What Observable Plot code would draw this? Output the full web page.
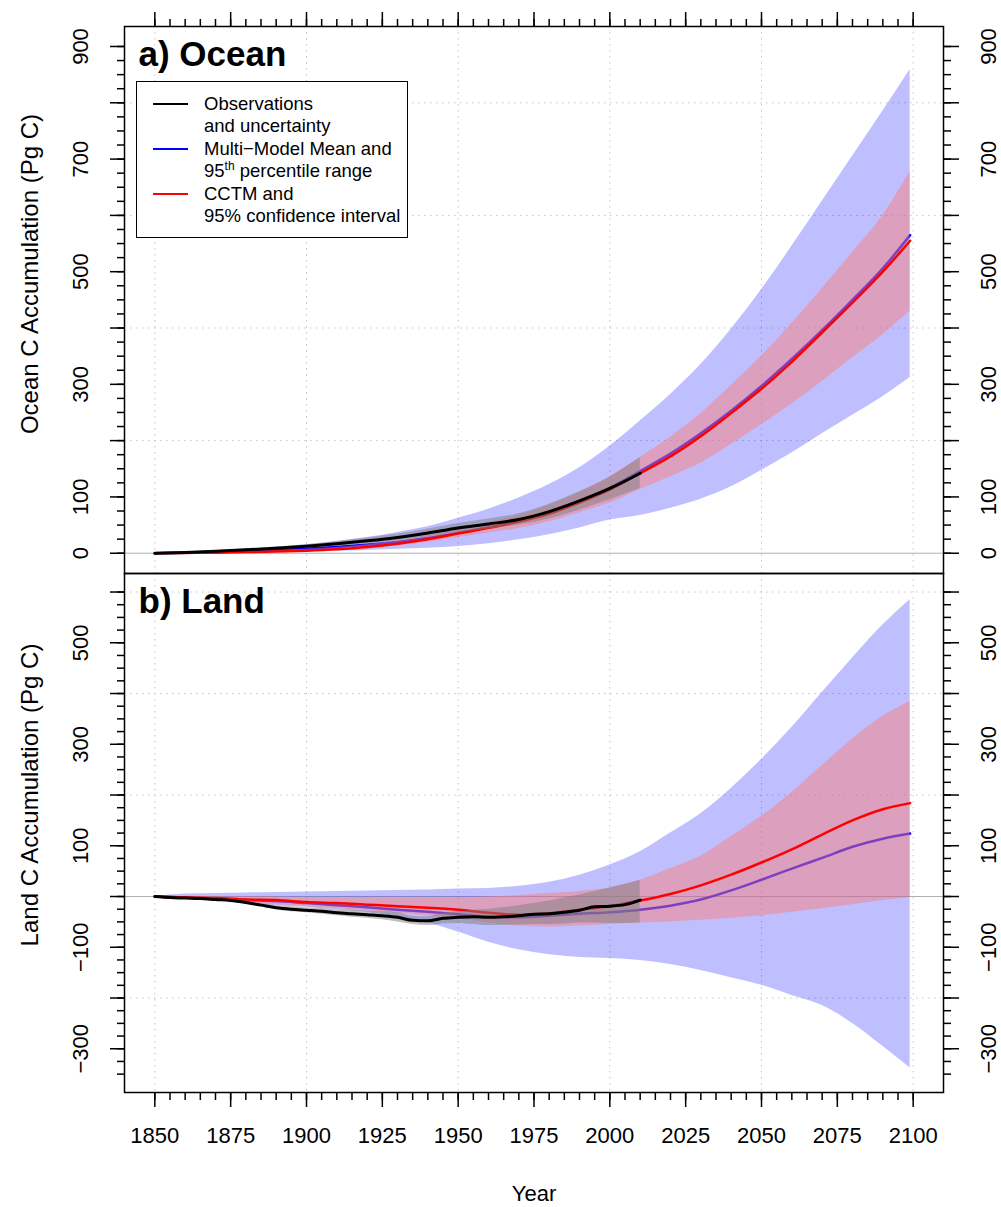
<!DOCTYPE html>
<html>
<head>
<meta charset="utf-8">
<script src="https://cdn.jsdelivr.net/npm/d3@7"></script>
<script src="https://cdn.jsdelivr.net/npm/@observablehq/plot@0.6"></script>
<style>
  body { margin: 0; background: #fff; }
  #wrap { position: relative; width: 1001px; height: 1207px; overflow: hidden; background: #fff;
          font-family: "Liberation Sans", Arial, Helvetica, sans-serif; }
  #wrap svg { position: absolute; left: 0; }
  .legend { position: absolute; left: 136px; top: 81px; width: 270px; height: 155px;
            border: 1px solid #000; background: #fff; font-size: 18.5px; color: #000; }
  .legend .ln { position: absolute; left: 16px; width: 35px; height: 0; border-top: 2.5px solid; }
  .legend .tx { position: absolute; left: 67px; white-space: nowrap; line-height: 1; transform: translateY(-50%); }
  .legend sup { font-size: 12px; vertical-align: 0; position: relative; top: -7px; }
</style>
</head>
<body>
<div id="wrap"></div>
<script>
// ---------------- DATA ----------------
// Model years (decadal, ending 2099)
const modelYears = [1850,1860,1870,1880,1890,1900,1910,1920,1930,1940,1950,1960,1970,1980,1990,2000,2010,2020,2030,2040,2050,2060,2070,2080,2090,2099];

// Ocean (Pg C)
const oceanMmm    = [0,1,2,3.5,5.5,8,11,15,20,27,36,46,57,72,92,116,146,177,213,253,297,345,396,450,506,565];
const oceanMmmLo  = [0,0,0.5,1,1.5,2.5,3.5,5,7,9,12,17,24,33,45,59,67,80,96,118,147,178,212,245,278,312];
const oceanMmmHi  = [0,2,4,7,11,15,21,28,37,47,62,78,98,122,152,190,235,282,335,398,468,545,625,705,785,859];
const oceanCctm   = [0,0.5,1,2,3,4.5,7,11,17,25,35,45,56,70,90,113,142,172,208,249,292,340,392,445,500,555];
const oceanCctmLo = [0,0.2,0.5,1,2,3,5,8,13,19,28,36,44,56,72,89,113,136,160,193,228,265,305,347,388,430];
const oceanCctmHi = [0,1,2,3.5,5,7,10,15,22,31,42,54,67,85,108,136,170,206,248,298,350,408,470,534,600,678];

const oceanObsYears = [1850,1860,1870,1880,1890,1900,1910,1920,1930,1940,1950,1960,1970,1980,1990,2000,2010];
const oceanObs   = [0,1.5,3.5,6,9,12.5,17,22,28,36,45,52,60,74,93,115,142];
const oceanObsLo = [0,1,2.5,4.5,7,10,13,17,22,29,37,43,50,61,77,95,115];
const oceanObsHi = [0,2,4.5,7.5,11,15,21,27,34,43,53,61,70,87,109,135,170];

// Land (Pg C)
const landMmm    = [0,-2,-4,-7,-9,-13,-17,-21,-26,-30,-35,-40,-41,-38,-34,-31,-26,-18,-6,12,33,55,76,98,114,124];
const landMmmLo  = [0,-5,-8,-14,-18,-21,-26,-31,-40,-52,-70,-90,-105,-115,-120,-122,-126,-134,-146,-160,-175,-195,-215,-250,-295,-338];
const landMmmHi  = [0,5,6,7,8,9,10,11,12,13,15,16,20,28,42,62,88,125,163,213,270,333,402,470,535,585];
const landCctm   = [0,-2,-3,-6,-7,-11,-13,-16,-19,-22,-26,-32,-36,-33,-26,-19,-8,5,22,43,67,93,122,150,172,184];
const landCctmLo = [0,-4,-7,-12,-16,-20,-24,-28,-33,-38,-44,-52,-58,-60,-58,-55,-52,-50,-47,-43,-38,-31,-24,-16,-8,-2];
const landCctmHi = [0,0,0,-1,-1,-2,-2,-2,-2,-2,-2,-1,2,6,10,17,32,55,80,118,158,205,258,310,355,385];

const landObsYears = [1850,1855,1860,1865,1870,1875,1880,1885,1890,1895,1900,1905,1910,1915,1920,1925,1930,1935,1940,1945,1950,1955,1960,1965,1970,1975,1980,1985,1990,1995,2000,2005,2010];
const landObs   = [0,-2,-3,-4,-6,-8,-12,-17,-22,-25,-27,-29,-32,-34,-36,-38,-41,-47,-48,-43,-41,-40,-41,-40,-38,-35,-34,-31,-27,-20,-19,-16,-7];
const landObsLo = [0,-3,-4,-6,-8,-11,-15,-20,-26,-30,-32,-35,-38,-41,-43,-46,-50,-55,-57,-54,-53,-55,-57,-57,-56,-55,-55,-54,-52,-52,-53,-53,-52];
const landObsHi = [0,-1,-2,-2,-4,-5,-9,-14,-18,-20,-22,-23,-26,-27,-29,-30,-32,-39,-40,-33,-30,-27,-25,-22,-18,-14,-9,-3,3,10,17,24,32];

// Tick values / labels
const yearLabels   = [1850,1875,1900,1925,1950,1975,2000,2025,2050,2075,2100];
const yearMinor    = [1850,1855,1860,1865,1870,1875,1880,1885,1890,1895,1900,1905,1910,1915,1920,1925,1930,1935,1940,1945,1950,1955,1960,1965,1970,1975,1980,1985,1990,1995,2000,2005,2010,2015,2020,2025,2030,2035,2040,2045,2050,2055,2060,2065,2070,2075,2080,2085,2090,2095,2100];
const yearGrid     = [1850,1900,1950,2000,2050,2100];
const oceanLabels  = [0,100,300,500,700,900];
const oceanMajor   = [0,100,200,300,400,500,600,700,800,900];
const oceanGrid    = [200,400,600,800];
const landLabels   = [-300,-100,100,300,500];
const landMajor    = [-300,-200,-100,0,100,200,300,400,500,600];
const landGrid     = [-200,200,400,600];

// ---------------- HELPERS ----------------
function table(years, cols) {
  return years.map((year, i) => {
    const row = {year};
    for (const k in cols) row[k] = cols[k][i];
    return row;
  });
}
function minorTicks(lo, hi, step) { const a = []; for (let v = lo; v <= hi + 1e-9; v += step) a.push(v); return a; }
const fmt = d => (d < 0 ? "\u2212" + Math.abs(d) : String(d));

const FONT = '"Liberation Sans", Arial, Helvetica, sans-serif';
const curve = "monotone-x";
const gridStyle = {stroke: "#c4c4c4", strokeOpacity: 1, strokeWidth: 1, strokeDasharray: "1.5,4.5"};
const noText = () => "";

function panelMarks(model, obs, opts) {
  return [
    Plot.gridX(yearGrid, gridStyle),
    Plot.gridY(opts.grid, gridStyle),
    Plot.ruleY([0], {stroke: "#b0b0b0", strokeWidth: 1}),
    Plot.areaY(model, {x: "year", y1: "mmmLo", y2: "mmmHi", fill: "#0000ff", fillOpacity: 0.25, curve}),
    Plot.lineY(model, {x: "year", y: "mmm", stroke: "#0000ff", strokeWidth: 2.5, curve}),
    Plot.areaY(model, {x: "year", y1: "cctmLo", y2: "cctmHi", fill: "rgb(250,128,125)", fillOpacity: 0.5, curve}),
    Plot.lineY(model, {x: "year", y: "cctm", stroke: "#ff0000", strokeWidth: 2.5, curve}),
    Plot.areaY(obs, {x: "year", y1: "lo", y2: "hi", fill: "#808080", fillOpacity: 0.5, curve}),
    Plot.lineY(obs, {x: "year", y: "obs", stroke: "#000000", strokeWidth: 3, curve}),
    Plot.frame({stroke: "#000", strokeWidth: 1.5}),
    // y ticks left and right
    Plot.axisY({anchor: "left", ticks: opts.major, tickSize: 14, tickFormat: noText, strokeWidth: 1.5, label: null}),
    Plot.axisY({anchor: "left", ticks: opts.minor, tickSize: 7, tickFormat: noText, strokeWidth: 1.5, label: null}),
    Plot.axisY({anchor: "right", ticks: opts.major, tickSize: 15, tickFormat: noText, strokeWidth: 1.5, label: null}),
    Plot.axisY({anchor: "right", ticks: opts.minor, tickSize: 7, tickFormat: noText, strokeWidth: 1.5, label: null}),
    // rotated tick labels
    Plot.text(opts.labels, {y: d => d, text: fmt, frameAnchor: "left", dx: -44, rotate: -90,
                            textAnchor: "middle", lineAnchor: "middle", fontSize: 22, fill: "#000"}),
    Plot.text(opts.labels, {y: d => d, text: fmt, frameAnchor: "right", dx: 45, rotate: -90,
                            textAnchor: "middle", lineAnchor: "middle", fontSize: 22, fill: "#000"}),
    // panel title
    Plot.text([opts.title], {frameAnchor: "top-left", dx: 14, dy: 28, textAnchor: "start", lineAnchor: "middle",
                             fontSize: 35, fontWeight: "bold", fill: "#000"}),
    // y-axis title
    Plot.text([opts.ylabel], {frameAnchor: "left", dx: -94, dy: opts.ylabelDy, rotate: -90,
                              textAnchor: "middle", lineAnchor: "middle", fontSize: 24, fill: "#000"})
  ];
}

const oceanModel = table(modelYears, {mmm: oceanMmm, mmmLo: oceanMmmLo, mmmHi: oceanMmmHi, cctm: oceanCctm, cctmLo: oceanCctmLo, cctmHi: oceanCctmHi});
const oceanObsT  = table(oceanObsYears, {obs: oceanObs, lo: oceanObsLo, hi: oceanObsHi});
const landModel  = table(modelYears, {mmm: landMmm, mmmLo: landMmmLo, mmmHi: landMmmHi, cctm: landCctm, cctmLo: landCctmLo, cctmHi: landCctmHi});
const landObsT   = table(landObsYears, {obs: landObs, lo: landObsLo, hi: landObsHi});

const xScale = {domain: [1840, 2110]};

// ---------------- OCEAN PANEL ----------------
const ocean = Plot.plot({
  width: 1001, height: 575,
  marginTop: 26, marginBottom: 2, marginLeft: 124, marginRight: 58,
  style: {fontFamily: FONT, fontSize: "22px", background: "white", color: "#000"},
  x: xScale,
  y: {domain: [-36, 935.5]},
  marks: [
    ...panelMarks(oceanModel, oceanObsT, {
      grid: oceanGrid, major: oceanMajor, minor: minorTicks(0, 900, 25), labels: oceanLabels,
      title: "a) Ocean", ylabel: "Ocean C Accumulation (Pg C)", ylabelDy: -26
    }),
    Plot.axisX({anchor: "top", ticks: yearLabels, tickSize: 15, tickFormat: noText, strokeWidth: 1.5, label: null}),
    Plot.axisX({anchor: "top", ticks: yearMinor, tickSize: 8, tickFormat: noText, strokeWidth: 1.5, label: null})
  ]
});

// ---------------- LAND PANEL ----------------
const land = Plot.plot({
  width: 1001, height: 636,
  marginTop: 2, marginBottom: 115, marginLeft: 124, marginRight: 58,
  style: {fontFamily: FONT, fontSize: "22px", background: "transparent", color: "#000"},
  x: xScale,
  y: {domain: [-386.2, 636.5]},
  marks: [
    ...panelMarks(landModel, landObsT, {
      grid: landGrid, major: landMajor, minor: minorTicks(-350, 600, 25), labels: landLabels,
      title: "b) Land", ylabel: "Land C Accumulation (Pg C)", ylabelDy: -38
    }),
    Plot.axisX({anchor: "bottom", ticks: yearLabels, tickSize: 15, tickFormat: noText, strokeWidth: 1.5, label: null}),
    Plot.axisX({anchor: "bottom", ticks: yearMinor, tickSize: 8, tickFormat: noText, strokeWidth: 1.5, label: null}),
    Plot.axisX({anchor: "bottom", ticks: yearLabels, tickSize: 0, tickPadding: 35, tickFormat: d => String(d),
                fontSize: 22, label: null}),
    Plot.text(["Year"], {frameAnchor: "bottom", dy: 101, lineAnchor: "middle", fontSize: 22, fill: "#000"})
  ]
});

const wrap = document.getElementById("wrap");
ocean.style.top = "0px";
land.style.top = "571px";
wrap.appendChild(ocean);
wrap.appendChild(land);

// ---------------- LEGEND ----------------
const legendItems = [
  {color: "#000000", y: 22, lines: ["Observations", "and uncertainty"]},
  {color: "#0000ff", y: 67, lines: ["Multi\u2212Model Mean and", "95<sup>th</sup> percentile range"]},
  {color: "#ff0000", y: 112, lines: ["CCTM and", "95% confidence interval"]}
];
const legend = document.createElement("div");
legend.className = "legend";
for (const it of legendItems) {
  const ln = document.createElement("div");
  ln.className = "ln";
  ln.style.borderTopColor = it.color;
  ln.style.top = (it.y - 1.25) + "px";
  legend.appendChild(ln);
  it.lines.forEach((t, j) => {
    const tx = document.createElement("div");
    tx.className = "tx";
    tx.style.top = (it.y + j * 22) + "px";
    tx.innerHTML = t;
    legend.appendChild(tx);
  });
}
wrap.appendChild(legend);
</script>
</body>
</html>
